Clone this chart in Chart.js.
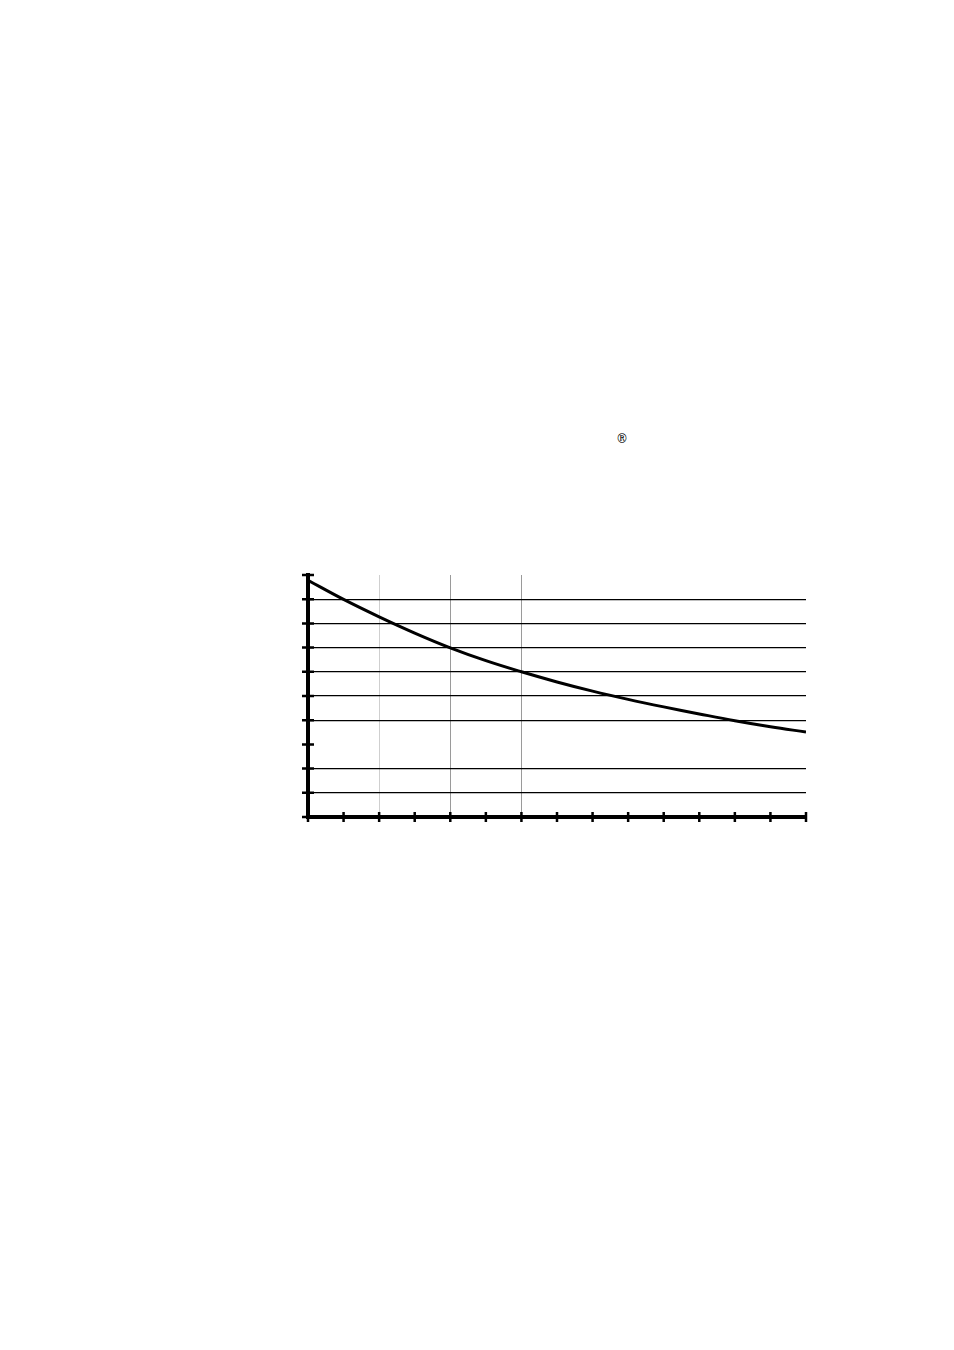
<!DOCTYPE html>
<html>
  <head>
    <title>Decay curve</title>
    <script src="https://cdn.jsdelivr.net/npm/chart.js"></script>
    <style>
      body { margin: 0; background: #fff; width: 954px; height: 1350px; position: relative; }
      #box { position: absolute; left: 298px; top: 565px; width: 518px; height: 262px; }
      #mark { position: absolute; left: 616px; top: 432px; font: 12px "DejaVu Serif", serif; color: #000; }
    </style>
  </head>
  <body>
    <span id="mark">®</span>
    <div id="box"><canvas id="chart"></canvas></div>

    <script>
        // values (axes carry no labels)
        const xValues = [0, 1, 2, 3, 4, 5, 6, 7, 8, 9, 10, 11, 12, 13, 14];
        const curve = [9.78, 8.99, 8.27, 7.60, 6.99, 6.46, 6.0, 5.58, 5.20, 4.86, 4.55, 4.26, 3.98, 3.73, 3.51];
        const yGridValues = [1, 2, 4, 5, 6, 7, 8, 9];
        const xGridLight = [2];
        const xGridDark = [4, 6];

        // short ticks crossing both axes
        const crossTicks = {
          id: 'crossTicks',
          afterDraw(chart) {
            const c = chart.ctx;
            const xs = chart.scales.x, ys = chart.scales.y;
            const x0 = xs.getPixelForValue(0), y0 = ys.getPixelForValue(0);
            c.save();
            c.strokeStyle = '#000';
            c.lineWidth = 2.5;
            c.beginPath();
            for (let v = 0; v <= 10; v++) {
              const py = ys.getPixelForValue(v);
              c.moveTo(x0 - 6, py);
              c.lineTo(x0 + 6, py);
            }
            for (let v = 0; v <= 14; v++) {
              const px = xs.getPixelForValue(v);
              c.moveTo(px, y0 - 5);
              c.lineTo(px, y0 + 5);
            }
            c.stroke();
            c.restore();
          }
        };

        const chart = new Chart(document.getElementById('chart'), {
          type: 'line',
          data: {
            datasets: [{
              data: xValues.map((x, i) => ({ x: x, y: curve[i] })),
              borderColor: '#000',
              borderWidth: 3,
              pointRadius: 0,
              tension: 0.4,
              fill: false
            }]
          },
          options: {
            responsive: true,
            maintainAspectRatio: false,
            animation: false,
            layout: { padding: 10 },
            plugins: { legend: { display: false }, tooltip: { enabled: false } },
            scales: {
              x: {
                type: 'linear', min: 0, max: 14,
                ticks: { display: false, stepSize: 1 },
                afterFit(s) { s.height = 0; },
                border: { color: '#000', width: 4 },
                grid: {
                  drawTicks: false,
                  lineWidth: 1,
                  color: ctx => xGridLight.includes(ctx.tick.value) ? '#cfcfcf'
                    : (xGridDark.includes(ctx.tick.value) ? '#9a9a9a' : 'rgba(0,0,0,0)')
                }
              },
              y: {
                type: 'linear', min: 0, max: 10,
                ticks: { display: false, stepSize: 1 },
                afterFit(s) { s.width = 0; },
                border: { color: '#000', width: 4 },
                grid: {
                  drawTicks: false,
                  lineWidth: 1.2,
                  color: ctx => yGridValues.includes(ctx.tick.value) ? '#000' : 'rgba(0,0,0,0)'
                }
              }
            }
          },
          plugins: [crossTicks]
        });
    </script>
  </body>
</html>
